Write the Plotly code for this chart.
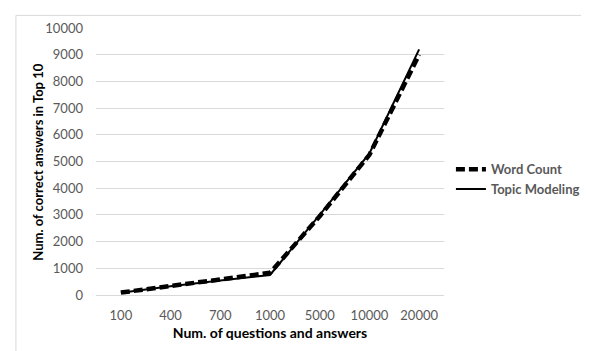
import plotly.graph_objects as go

categories = ["100", "400", "700", "1000", "5000", "10000", "20000"]
word_count = [90, 350, 580, 830, 2950, 5250, 9000]
topic_modeling = [80, 330, 540, 750, 3000, 5300, 9200]
y_ticks = list(range(0, 10001, 1000))
y_tick_labels = [str(v) for v in y_ticks]

OFF = 8  # page body margin
W, H = 589, 351
L, R, T, B = 96 - OFF, 448 - OFF, 20 - OFF, 295 - OFF

fig = go.Figure()
fig.add_trace(go.Scatter(x=categories, y=word_count, mode="lines", name="Word Count",
                         line=dict(color="black", width=4.5, dash="9px,4px")))
fig.add_trace(go.Scatter(x=categories, y=topic_modeling, mode="lines", name="Topic Modeling",
                         line=dict(color="black", width=2)))

pw = R - L
ph = B - T
def px_x(x):
    return (x - OFF - L) / pw
def px_y(y):
    return (B - (y - OFF)) / ph

fig.add_shape(type="rect", xref="paper", yref="paper",
              x0=px_x(15), x1=px_x(620), y0=px_y(380), y1=px_y(7),
              line=dict(color="#D9D9D9", width=1), fillcolor="rgba(0,0,0,0)", layer="below")

font = "Lato, Liberation Sans, sans-serif"
fig.add_annotation(text="<b>Num. of correct answers in Top 10</b>", textangle=-90,
                   xref="paper", yref="paper", x=px_x(37), y=px_y(158),
                   xanchor="center", yanchor="middle", showarrow=False,
                   font=dict(family=font, size=13, color="black"))

fig.update_layout(
    width=W, height=H,
    margin=dict(l=L, r=W - R, t=T, b=H - B),
    paper_bgcolor="white", plot_bgcolor="white",
    showlegend=True,
    legend=dict(x=px_x(455), y=px_y(150), xanchor="left", yanchor="top",
                font=dict(family=font, size=13, color="#595959", weight="bold"),
                bgcolor="rgba(0,0,0,0)", tracegroupgap=0, itemwidth=30),
    xaxis=dict(type="category", range=[-0.5, 6.5], showgrid=False, showline=True,
               linecolor="#D9D9D9", ticks="", ticklabelstandoff=8,
               tickfont=dict(family=font, size=13, color="#595959"),
               title=dict(text="<b>Num. of questions and answers</b>",
                          font=dict(family=font, size=14, color="black"), standoff=6),
               fixedrange=True),
    yaxis=dict(range=[0, 10000], tickvals=y_ticks, ticktext=y_tick_labels, showgrid=True,
               gridcolor="#D9D9D9", zeroline=False, showline=False, ticks="",
               ticklabelstandoff=12,
               tickfont=dict(family=font, size=13, color="#595959"),
               fixedrange=True),
)

fig.write_html("out.html")
